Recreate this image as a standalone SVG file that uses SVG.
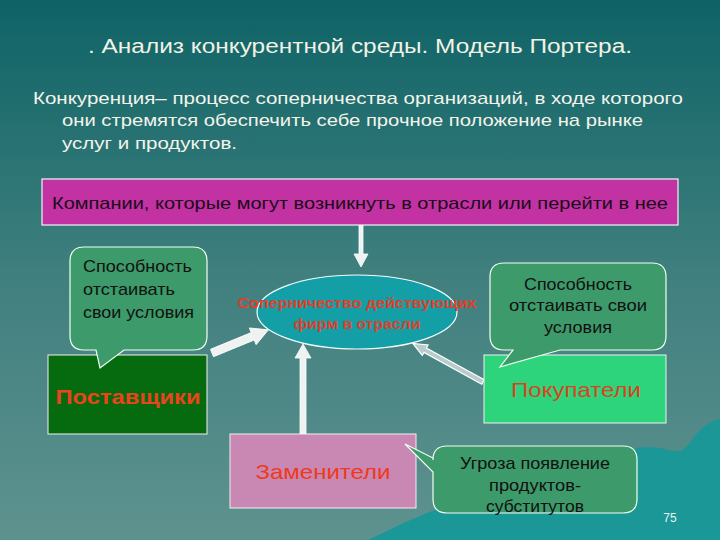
<svg xmlns="http://www.w3.org/2000/svg" width="720" height="540" viewBox="0 0 720 540">
<defs>
<linearGradient id="bg" x1="0" y1="0" x2="0" y2="1">
<stop offset="0" stop-color="#0e6366"/>
<stop offset="0.5" stop-color="#3f7f7e"/>
<stop offset="1" stop-color="#5e928f"/>
</linearGradient>
<style>
.t{font-family:"Liberation Sans",Arial,sans-serif}
.cl{fill:#3d9a6a;stroke:#f0fff0;stroke-width:1.2}
.ct{font-family:"Liberation Sans",Arial,sans-serif;font-size:17px;fill:#111}
.arr{fill:#eef2f0;stroke:#ffffff;stroke-width:0.8}
</style>
</defs>
<rect x="0" y="0" width="720" height="540" fill="url(#bg)"/>
<path d="M 368 540 C 400 525 425 512 450 505 C 500 490 560 470 600 462 C 620 455 632 448 645 447 C 660 446 670 452 680 451 C 690 447 695 432 705 426 C 712 421 716 420 720 419 V 540 Z" fill="#1a9796"/>

<text class="t" x="360" y="53" font-size="20" fill="#f2f2e4" text-anchor="middle" textLength="544" lengthAdjust="spacingAndGlyphs">. Анализ конкурентной среды. Модель Портера.</text>
<g class="t" font-size="17" fill="#f4f4ea">
<text x="33" y="104" textLength="650" lengthAdjust="spacingAndGlyphs">Конкуренция– процесс соперничества организаций, в ходе которого</text>
<text x="62" y="126" textLength="581" lengthAdjust="spacingAndGlyphs">они стремятся обеспечить себе прочное положение на рынке</text>
<text x="62" y="149" textLength="175" lengthAdjust="spacingAndGlyphs">услуг и продуктов.</text>
</g>

<g id="connectors">
<polygon class="arr" points="359,225 363,225 363,254 368,254 361,267 354,254 359,254"/>
<polygon class="arr" points="300,434 306,434 306,358 311,358 303,344 295,358 300,358"/>
<polygon class="arr" transform="translate(212,353) rotate(-22.3)" points="0,-4 44,-4 44,-9 61,0 44,9 44,4 0,4"/>
<g transform="translate(483,382) rotate(208.8)">
<polygon points="0,-2.5 66,-2.5 66,-6 80,0 66,6 66,2.5 0,2.5" fill="#b8cccc" stroke="#ffffff" stroke-width="1.2"/>
</g>
</g>

<g id="entrants">
<rect x="42" y="179" width="636" height="46" fill="#c232a3" stroke="#f4f4f4" stroke-width="1.2"/>
<text class="t" x="360" y="209" font-size="17" fill="#1a0a1a" text-anchor="middle" textLength="616" lengthAdjust="spacingAndGlyphs">Компании, которые могут возникнуть в отрасли или перейти в нее</text>
</g>

<g id="rivalry">
<ellipse cx="357" cy="312" rx="100" ry="37" fill="#149ea6" stroke="#f0ffff" stroke-width="1.2"/>
<text class="t" font-size="14" font-weight="bold" fill="#e0402a" text-anchor="middle"><tspan x="357" y="308" textLength="239" lengthAdjust="spacingAndGlyphs">Соперничество действующих</tspan><tspan x="357" y="329" textLength="127" lengthAdjust="spacingAndGlyphs">фирм в отрасли</tspan></text>
</g>

<g id="suppliers">
<rect x="48" y="355" width="159" height="79" fill="#066a0e" stroke="#f0f0f0" stroke-width="1"/>
<text class="t" x="128" y="404" font-size="21" font-weight="bold" fill="#e8441e" text-anchor="middle" textLength="145" lengthAdjust="spacingAndGlyphs">Поставщики</text>
</g>

<g id="suppliers-callout">
<path class="cl" d="M 84 247 H 193 Q 207 247 207 261 V 336 Q 207 350 193 350 H 124 L 100 368 L 96 350 H 84 Q 70 350 70 336 V 261 Q 70 247 84 247 Z"/>
<text class="ct"><tspan x="83" y="272" textLength="109" lengthAdjust="spacingAndGlyphs">Способность</tspan><tspan x="83" y="295" textLength="92" lengthAdjust="spacingAndGlyphs">отстаивать</tspan><tspan x="83" y="318" textLength="111" lengthAdjust="spacingAndGlyphs">свои условия</tspan></text>
</g>

<g id="buyers">
<rect x="484" y="355" width="182" height="68" fill="#2dd47c" stroke="#f0f0f0" stroke-width="1"/>
<text class="t" x="576" y="397" font-size="21" fill="#d8441e" text-anchor="middle" textLength="130" lengthAdjust="spacingAndGlyphs">Покупатели</text>
</g>

<g id="buyers-callout">
<path class="cl" d="M 504 263 H 652 Q 666 263 666 277 V 336 Q 666 350 652 350 H 560 L 500 367 L 513 350 H 504 Q 490 350 490 336 V 277 Q 490 263 504 263 Z"/>
<text class="ct" text-anchor="middle"><tspan x="578" y="290" textLength="108" lengthAdjust="spacingAndGlyphs">Способность</tspan><tspan x="578" y="311" textLength="138" lengthAdjust="spacingAndGlyphs">отстаивать свои</tspan><tspan x="578" y="333" textLength="68" lengthAdjust="spacingAndGlyphs">условия</tspan></text>
</g>

<g id="substitutes">
<rect x="230" y="434" width="186" height="74" fill="#c987b3" stroke="#f0f0f0" stroke-width="1"/>
<text class="t" x="323" y="479" font-size="21" fill="#ee3a1a" text-anchor="middle" textLength="135" lengthAdjust="spacingAndGlyphs">Заменители</text>
</g>

<g id="substitutes-callout">
<path class="cl" d="M 447 446 H 623 Q 637 446 637 460 V 499 Q 637 513 623 513 H 447 Q 433 513 433 499 V 472 L 405 444 L 433 458 V 460 Q 433 446 447 446 Z"/>
<text class="ct" font-size="16" text-anchor="middle"><tspan x="535" y="469" textLength="150" lengthAdjust="spacingAndGlyphs">Угроза появление</tspan><tspan x="535" y="491" textLength="92" lengthAdjust="spacingAndGlyphs">продуктов-</tspan><tspan x="535" y="512" textLength="98" lengthAdjust="spacingAndGlyphs">субститутов</tspan></text>
</g>

<text class="t" x="670" y="522" font-size="12" fill="#e8f4f4" text-anchor="middle">75</text>
</svg>
